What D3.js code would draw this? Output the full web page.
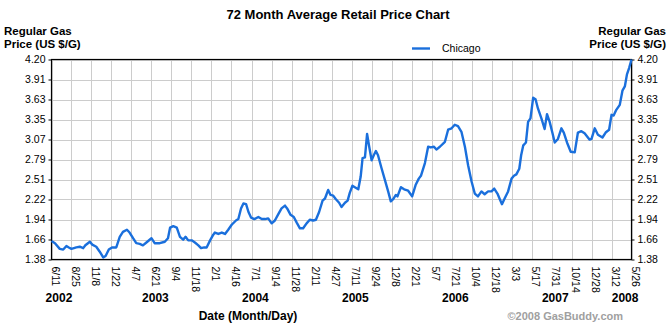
<!DOCTYPE html>
<html><head><meta charset="utf-8">
<script src="https://cdn.jsdelivr.net/npm/d3@7"></script>
<style>
html,body{margin:0;padding:0;background:#fff;}
svg{display:block;}
.narrow{font-family:'Liberation Sans Narrow','Arial Narrow','Liberation Sans',Arial,sans-serif;font-weight:bold;}
.tick-text{font-family:'Liberation Sans',Arial,sans-serif;font-size:10.5px;fill:#000;}
</style></head>
<body>
<svg id="chart" width="670" height="325"></svg>
<script>
// ---------- data ----------
const seriesName = "Chicago";
const dates = [
"2002-06-11","2002-06-24","2002-07-12","2002-07-25","2002-08-06","2002-08-15","2002-08-25","2002-09-12","2002-09-25","2002-10-08",
"2002-10-16","2002-11-02","2002-11-11","2002-11-26","2002-12-09","2002-12-22","2002-12-31","2003-01-12","2003-01-24","2003-02-09",
"2003-02-22","2003-03-06","2003-03-21","2003-03-31","2003-04-13","2003-04-25","2003-05-08","2003-05-20","2003-06-02","2003-06-21",
"2003-07-03","2003-07-22","2003-08-10","2003-08-22","2003-08-30","2003-09-11","2003-09-24","2003-10-06","2003-10-18","2003-10-27",
"2003-11-06","2003-11-19","2003-12-01","2003-12-14","2003-12-24","2004-01-05","2004-01-14","2004-01-27","2004-02-08","2004-02-14",
"2004-02-27","2004-03-11","2004-03-23","2004-04-04","2004-04-17","2004-05-03","2004-05-12","2004-05-22","2004-05-31","2004-06-10",
"2004-06-19","2004-06-29","2004-07-11","2004-07-26","2004-08-08","2004-08-20","2004-09-01","2004-09-14","2004-09-26","2004-10-09",
"2004-10-21","2004-11-03","2004-11-11","2004-11-24","2004-12-06","2004-12-17","2004-12-29","2005-01-10","2005-01-23","2005-02-04",
"2005-02-17","2005-02-27","2005-03-11","2005-03-24","2005-04-02","2005-04-14","2005-04-23","2005-05-03","2005-05-13","2005-05-25",
"2005-06-03","2005-06-16","2005-06-26","2005-07-04","2005-07-14","2005-07-23","2005-08-05","2005-08-14","2005-08-21","2005-08-30",
"2005-09-07","2005-09-15","2005-09-24","2005-10-02","2005-10-10","2005-10-18","2005-10-31","2005-11-13","2005-11-25","2005-12-05",
"2005-12-14","2005-12-24","2005-12-30","2006-01-12","2006-01-24","2006-02-08","2006-02-23","2006-03-08","2006-03-20","2006-03-28",
"2006-04-12","2006-04-24","2006-05-04","2006-05-16","2006-05-25","2006-06-07","2006-06-26","2006-07-08","2006-07-21","2006-08-02",
"2006-08-14","2006-08-27","2006-09-09","2006-09-21","2006-10-04","2006-10-16","2006-10-28","2006-11-10","2006-11-22","2006-12-05",
"2006-12-18","2006-12-28","2007-01-09","2007-01-18","2007-01-26","2007-02-05","2007-02-18","2007-03-03","2007-03-12","2007-03-21",
"2007-04-01","2007-04-08","2007-04-16","2007-04-26","2007-05-04","2007-05-13","2007-05-23","2007-06-01","2007-06-10","2007-06-23",
"2007-07-05","2007-07-14","2007-07-24","2007-08-03","2007-08-12","2007-08-24","2007-09-06","2007-09-15","2007-09-27","2007-10-11",
"2007-10-26","2007-11-07","2007-11-20","2007-12-02","2007-12-21","2007-12-28","2008-01-09","2008-01-21","2008-02-07","2008-02-19",
"2008-03-03","2008-03-12","2008-03-20","2008-03-30","2008-04-12","2008-04-22","2008-05-01","2008-05-09","2008-05-17","2008-05-26"
];
const prices = [
1.64,1.61,1.53,1.52,1.57,1.55,1.53,1.55,1.56,1.54,
1.58,1.63,1.59,1.56,1.49,1.41,1.43,1.52,1.55,1.55,
1.70,1.77,1.80,1.76,1.68,1.61,1.60,1.58,1.62,1.68,
1.61,1.61,1.63,1.68,1.83,1.85,1.83,1.70,1.66,1.70,
1.65,1.65,1.62,1.58,1.54,1.55,1.55,1.65,1.73,1.76,
1.74,1.76,1.74,1.80,1.87,1.93,1.95,2.10,2.17,2.16,
2.05,1.97,1.95,1.98,1.95,1.95,1.96,1.89,1.93,2.02,
2.10,2.14,2.10,2.01,1.98,1.90,1.82,1.82,1.89,1.94,
1.93,1.94,2.05,2.21,2.24,2.36,2.29,2.28,2.23,2.18,
2.12,2.18,2.21,2.32,2.42,2.40,2.37,2.55,2.81,2.82,
3.15,2.97,2.78,2.85,2.91,2.85,2.67,2.50,2.34,2.20,
2.23,2.29,2.27,2.40,2.37,2.35,2.27,2.43,2.52,2.56,
2.74,2.97,2.96,2.97,2.93,2.97,3.04,3.21,3.23,3.28,
3.26,3.18,2.97,2.71,2.48,2.31,2.27,2.34,2.30,2.34,
2.34,2.38,2.31,2.23,2.16,2.24,2.34,2.52,2.56,2.58,
2.66,2.85,2.99,3.03,3.32,3.37,3.66,3.64,3.51,3.37,
3.22,3.43,3.32,3.17,3.03,3.08,3.23,3.17,3.03,2.90,
2.89,3.17,3.19,3.16,3.07,3.08,3.23,3.14,3.10,3.17,
3.21,3.42,3.41,3.49,3.56,3.76,3.82,3.99,4.08,4.20
];
const yTickValues = [1.38,1.662,1.944,2.226,2.508,2.79,3.072,3.354,3.636,3.918,4.20];
const yTickLabels = ["1.38","1.66","1.94","2.22","2.51","2.79","3.07","3.35","3.63","3.91","4.20"];
const xTickDates = [
"2002-06-11","2002-08-25","2002-11-08","2003-01-22","2003-04-07","2003-06-21","2003-09-04","2003-11-18","2004-02-01","2004-04-16",
"2004-07-01","2004-09-14","2004-11-28","2005-02-11","2005-04-27","2005-07-11","2005-09-24","2005-12-08","2006-02-21","2006-05-07",
"2006-07-21","2006-10-04","2006-12-18","2007-03-03","2007-05-17","2007-07-31","2007-10-14","2007-12-28","2008-03-12","2008-05-26"
];
const xTickLabels = ["6/11","8/25","11/8","1/22","4/7","6/21","9/4","11/18","2/1","4/16","7/1","9/14","11/28","2/11","4/27","7/11","9/24","12/8","2/21","5/7","7/21","10/4","12/18","3/3","5/17","7/31","10/14","12/28","3/12","5/26"];
const yearLabels = ["2002","2003","2004","2005","2006","2007","2008"];
const yearAnchorDates = ["2002-07-09","2003-07-06","2004-07-15","2005-07-25","2006-08-04","2007-08-14","2008-05-02"];
const titleText = "72 Month Average Retail Price Chart";
const yTitleLines = ["Regular Gas","Price (US $/G)"];
const xTitle = "Date (Month/Day)";
const credit = "\u00A92008 GasBuddy.com";

// ---------- drawing ----------
const parse = d3.utcParse("%Y-%m-%d");
const data = dates.map((d,i)=>({date:parse(d), value:prices[i]}));
const m = {left:51.5, right:631.5, top:59.5, bottom:259.5};
const svg = d3.select("#chart");

const x = d3.scaleUtc().domain([parse(xTickDates[0]), parse(xTickDates[xTickDates.length-1])]).range([m.left, m.right]);
const y = d3.scaleLinear().domain([1.38, 4.20]).range([m.bottom, m.top]);

// grid
const g = svg.append("g");
g.selectAll("line.v").data(xTickDates).join("line")
  .attr("x1", d=>Math.round(x(parse(d)))+0.5).attr("x2", d=>Math.round(x(parse(d)))+0.5)
  .attr("y1", m.top).attr("y2", m.bottom).attr("stroke","#cccccc").attr("stroke-width",1);
g.selectAll("line.h").data(yTickValues).join("line")
  .attr("x1", m.left).attr("x2", m.right)
  .attr("y1", d=>Math.round(y(d))+0.5).attr("y2", d=>Math.round(y(d))+0.5)
  .attr("stroke","#cccccc").attr("stroke-width",1);

// axes
const fmtY = d => yTickLabels[yTickValues.indexOf(d)];
const yLeft = d3.axisLeft(y).tickValues(yTickValues).tickFormat(fmtY).tickSize(3).tickPadding(3);
const yRight = d3.axisRight(y).tickValues(yTickValues).tickFormat(fmtY).tickSize(3).tickPadding(3);
const gl = svg.append("g").attr("transform",`translate(${m.left},0)`).call(yLeft);
const gr = svg.append("g").attr("transform",`translate(${m.right},0)`).call(yRight);
[gl,gr].forEach(a=>{
  a.select(".domain").remove();
  a.selectAll("line").attr("stroke","#000");
  a.selectAll("text").attr("class","tick-text");
});

const xAxis = d3.axisBottom(x).tickValues(xTickDates.map(parse)).tickFormat((d,i)=>xTickLabels[i]).tickSize(0);
const gx = svg.append("g").attr("transform",`translate(0,${m.bottom})`).call(xAxis);
gx.select(".domain").remove();
gx.selectAll("text").attr("class","tick-text")
  .attr("transform","rotate(90)").attr("text-anchor","start")
  .attr("x",7).attr("y",-4).attr("dy","0.35em");

// frame
svg.append("rect").attr("x",m.left).attr("y",m.top).attr("width",m.right-m.left).attr("height",m.bottom-m.top)
  .attr("fill","none").attr("stroke","#000").attr("stroke-width",1.2);

// line
const line = d3.line().x(d=>x(d.date)).y(d=>y(d.value));
svg.append("path").datum(data).attr("d",line).attr("fill","none")
  .attr("stroke","#1a6fdc").attr("stroke-width",2.4).attr("stroke-linejoin","round");

// years
svg.selectAll("text.year").data(yearLabels).join("text")
  .attr("class","narrow").attr("x",(d,i)=>x(parse(yearAnchorDates[i]))).attr("y",302)
  .attr("text-anchor","middle").attr("font-size","12px").text(d=>d);

// titles
svg.append("text").attr("class","narrow").attr("x",338).attr("y",19).attr("text-anchor","middle")
  .attr("font-size","13px").text(titleText);
yTitleLines.forEach((t,i)=>{
  svg.append("text").attr("class","narrow").attr("x",4).attr("y",35+i*13).attr("font-size","11.5px").text(t);
  svg.append("text").attr("class","narrow").attr("x",666).attr("y",35+i*13).attr("text-anchor","end").attr("font-size","11.5px").text(t);
});
svg.append("text").attr("class","narrow").attr("x",248).attr("y",320).attr("text-anchor","middle")
  .attr("font-size","12px").text(xTitle);
svg.append("text").attr("x",623).attr("y",320).attr("text-anchor","end")
  .attr("font-family","'Liberation Sans',Arial,sans-serif").attr("font-weight","bold")
  .attr("font-size","11px").attr("fill","#a0a0a0").text(credit);

// legend
svg.append("line").attr("x1",412).attr("x2",430).attr("y1",48.5).attr("y2",48.5)
  .attr("stroke","#1a6fdc").attr("stroke-width",2.4);
svg.append("text").attr("class","tick-text").attr("x",442).attr("y",52).text(seriesName);
</script>
</body></html>
